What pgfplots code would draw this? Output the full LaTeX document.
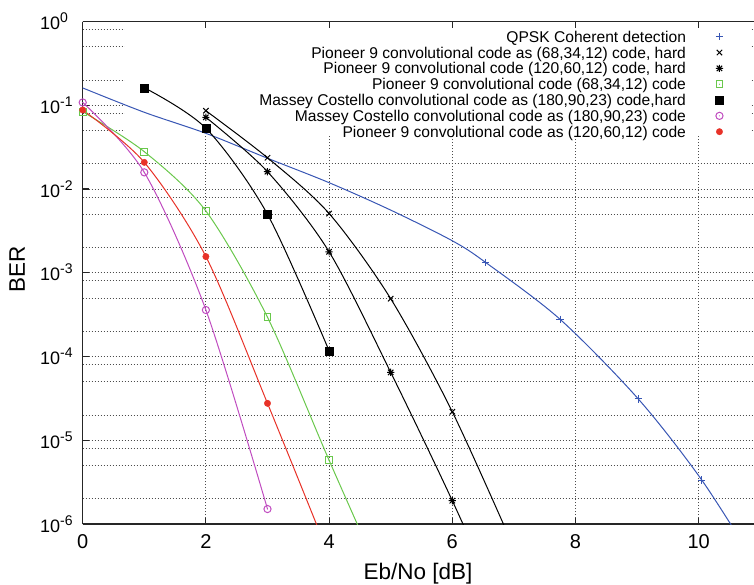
\documentclass[border=0pt]{standalone}
\usepackage{fontspec}
\setmainfont{Liberation Sans}
\usepackage{pgfplots}
\pgfplotsset{compat=1.18}

\newcommand\fs[1]{\fontsize{#1}{#1}\selectfont}
\newcommand\dec[1]{10\raisebox{7pt}{\fs{14}#1}}

\definecolor{qblue}{RGB}{56,86,180}
\definecolor{cred}{RGB}{232,50,40}
\definecolor{cgreen}{RGB}{106,200,76}
\definecolor{cmag}{RGB}{192,76,192}

% gnuplot style marks: * is + and x on top of each other, open marks have a dot
\pgfdeclareplotmark{plusx}{%
  \pgfpathmoveto{\pgfqpoint{-\pgfplotmarksize}{0pt}}\pgfpathlineto{\pgfqpoint{\pgfplotmarksize}{0pt}}%
  \pgfpathmoveto{\pgfqpoint{0pt}{-\pgfplotmarksize}}\pgfpathlineto{\pgfqpoint{0pt}{\pgfplotmarksize}}%
  \pgfpathmoveto{\pgfqpoint{-.75\pgfplotmarksize}{-.75\pgfplotmarksize}}\pgfpathlineto{\pgfqpoint{.75\pgfplotmarksize}{.75\pgfplotmarksize}}%
  \pgfpathmoveto{\pgfqpoint{-.75\pgfplotmarksize}{.75\pgfplotmarksize}}\pgfpathlineto{\pgfqpoint{.75\pgfplotmarksize}{-.75\pgfplotmarksize}}%
  \pgfusepathqstroke}
\pgfdeclareplotmark{sqdot}{%
  \pgfpathrectangle{\pgfqpoint{-\pgfplotmarksize}{-\pgfplotmarksize}}{\pgfqpoint{2\pgfplotmarksize}{2\pgfplotmarksize}}%
  \pgfusepathqstroke
  \pgfpathcircle{\pgfpointorigin}{0.6pt}\pgfusepathqfill}
\pgfdeclareplotmark{cidot}{%
  \pgfpathcircle{\pgfpointorigin}{\pgfplotmarksize}\pgfusepathqstroke
  \pgfpathcircle{\pgfpointorigin}{0.6pt}\pgfusepathqfill}

\begin{document}
\begin{tikzpicture}
\begin{axis}[
  scale only axis, width=671.3pt, height=502.5pt,
  xmin=0, xmax=10.898,
  ymode=log, ymin=1e-6, ymax=1,
  axis x line*=box, axis y line*=left,
  axis line style={-, line width=1.5pt, black!85},
  xtick={0,2,4,6,8,10}, xticklabels={0,2,4,6,8,10},
  xtick pos=both, xticklabel pos=lower, ytick pos=left,
  ytick={1e-6,1e-5,1e-4,1e-3,1e-2,1e-1,1},
  yticklabels={\dec{-6},\dec{-5},\dec{-4},\dec{-3},\dec{-2},\dec{-1},\dec{0}},
  minor ytick={2e-6,5e-6,8e-6,2e-5,5e-5,8e-5,2e-4,5e-4,8e-4,2e-3,5e-3,8e-3,2e-2,5e-2,8e-2,2e-1,5e-1,8e-1},
  major tick length=6.5pt, minor tick length=0pt,
  tick style={line width=1.1pt, black!85},
  xmajorgrids, ymajorgrids, yminorgrids,
  major grid style={black!70, line width=0.8pt, dash pattern=on 1pt off 2pt},
  minor grid style={black!70, line width=0.8pt, dash pattern=on 1pt off 2pt},
  xticklabel style={font=\fs{20}, anchor=base, inner sep=0pt, yshift=-24.3pt},
  yticklabel style={font=\fs{18}, anchor=base west, inner sep=0pt, xshift=-42.7pt, yshift=-8pt},
  xlabel={Eb/No [dB]},
  xlabel style={font=\fs{22.5}, at={(axis description cs:0.4995,-0.1114)}, anchor=base, inner sep=0pt},
  ylabel={BER},
  ylabel style={font=\fs{22.5}, at={(axis description cs:-0.0860,0.5075)}, anchor=base, inner sep=0pt},
  legend cell align=right, legend plot pos=right,
  legend style={at={(axis description cs:0.9545,0.9855)}, anchor=north east,
    draw=none, fill=none, inner sep=0pt, outer sep=0pt, row sep=0pt, column sep=29.5pt,
    font=\fs{15.6}, nodes={inner sep=0pt, text height=13.5pt, text depth=2.33pt}},
]
\coordinate (bl) at (rel axis cs:0,0);
% opaque key box of the original hides the grid behind the legend
\fill[white] (axis cs:0.687,0.836) rectangle (axis cs:10.84,0.0441);

% QPSK coherent detection
\addplot[qblue, line width=1pt, smooth, forget plot] coordinates {
  (0,0.161) (1,0.0824) (2,0.0462) (3,0.0233) (4,0.0119) (5,5.6e-3)
  (6,2.41e-3) (6.54,1.33e-3) (7.75,2.78e-4) (9.02,3.11e-5) (10.05,3.35e-6) (11,2.7e-7)};
\addplot[qblue, only marks, mark=+, mark size=3.6pt, line width=1pt] coordinates {
  (6.54,1.33e-3) (7.75,2.78e-4) (9.02,3.11e-5) (10.05,3.35e-6)};
\addlegendentry{QPSK Coherent detection}

% Pioneer 9 (68,34,12) hard
\addplot[black, line width=1pt, smooth, forget plot] coordinates {
  (2,0.086) (3,0.0236) (4,5.1e-3) (5,4.9e-4) (6,2.19e-5) (7,5.2e-7)};
\addplot[black, only marks, mark=x, mark size=3.8pt, line width=1pt] coordinates {
  (2,0.086) (3,0.0236) (4,5.1e-3) (5,4.9e-4) (6,2.19e-5)};
\addlegendentry{Pioneer 9 convolutional code as (68,34,12) code, hard}

% Pioneer 9 (120,60,12) hard
\addplot[black, line width=1pt, smooth, forget plot] coordinates {
  (2,0.0718) (3,0.0161) (4,1.78e-3) (5,6.47e-5) (6,1.9e-6) (7,4.4e-8)};
\addplot[black, only marks, mark=plusx, mark size=3.6pt, line width=1pt] coordinates {
  (2,0.0718) (3,0.0161) (4,1.78e-3) (5,6.47e-5) (6,1.9e-6)};
\addlegendentry{Pioneer 9 convolutional code (120,60,12) code, hard}

% Pioneer 9 (68,34,12) soft
\addplot[cgreen, line width=1pt, smooth, forget plot] coordinates {
  (0,0.0838) (1,0.0279) (2,5.46e-3) (3,2.94e-4) (4,5.77e-6) (5,1.26e-7)};
\addplot[cgreen, only marks, mark=sqdot, mark size=3.4pt, line width=1pt] coordinates {
  (0,0.0838) (1,0.0279) (2,5.46e-3) (3,2.94e-4) (4,5.77e-6)};
\addlegendentry{Pioneer 9 convolutional code (68,34,12) code}

% Massey Costello (180,90,23) hard
\addplot[black, line width=1pt, smooth, forget plot] coordinates {
  (1,0.162) (2,0.0531) (3,4.99e-3) (4,1.17e-4)};
\addplot[black, only marks, mark=square*, mark size=4pt] coordinates {
  (1,0.162) (2,0.0531) (3,4.99e-3) (4,1.17e-4)};
\addlegendentry{Massey Costello convolutional code as (180,90,23) code,hard}

% Massey Costello (180,90,23) soft
\addplot[cmag, line width=1pt, smooth, forget plot] coordinates {
  (0,0.108) (1,0.0158) (2,3.59e-4) (3,1.51e-6)};
\addplot[cmag, only marks, mark=cidot, mark size=3.6pt, line width=1pt] coordinates {
  (0,0.108) (1,0.0158) (2,3.59e-4) (3,1.51e-6)};
\addlegendentry{Massey Costello convolutional code as (180,90,23) code}

% Pioneer 9 (120,60,12) soft
\addplot[cred, line width=1pt, smooth, forget plot] coordinates {
  (0,0.0878) (1,0.0208) (2,1.56e-3) (3,2.76e-5) (4,4.2e-7)};
\addplot[cred, only marks, mark=*, mark size=3.2pt] coordinates {
  (0,0.0878) (1,0.0208) (2,1.56e-3) (3,2.76e-5)};
\addlegendentry{Pioneer 9 convolutional code as (120,60,12) code}
\end{axis}
\pgfresetboundingbox
\path[use as bounding box] ([shift={(-82.7pt,-60pt)}]bl) rectangle ([shift={(671.3pt,524pt)}]bl);
\end{tikzpicture}
\end{document}
